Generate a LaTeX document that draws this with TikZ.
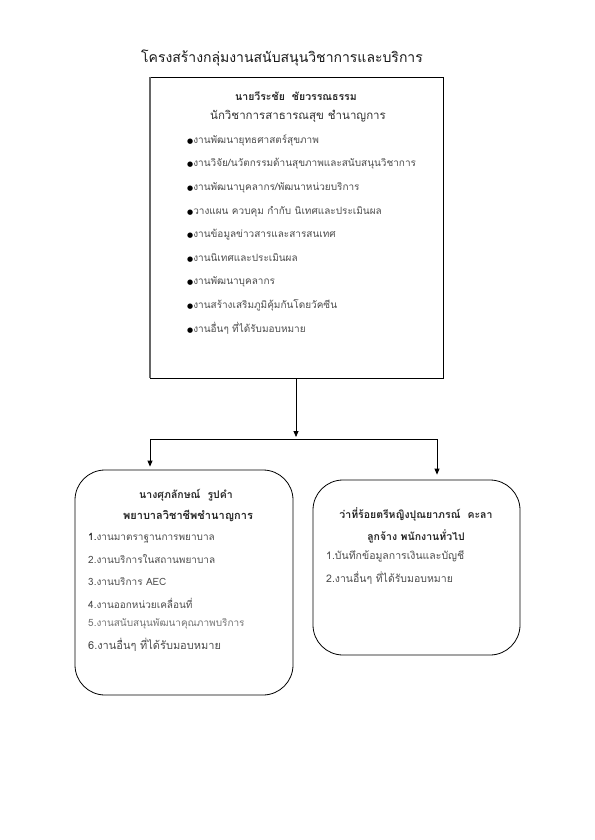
\documentclass[tikz,border=0pt]{standalone}
\usepackage{fontspec}
\setmainfont[Script=Thai]{Loma}
\newfontfamily\symfont{DejaVu Sans}
\usetikzlibrary{arrows.meta,positioning,calc}
\tikzset{
  box/.style   ={draw,line width=0.8pt,inner sep=0pt},
  rbox/.style  ={box,rounded corners=30pt},
  ttl/.style   ={font=\fontsize{14}{16}\selectfont,text=black!90},
  hd/.style    ={font=\fontsize{10.5}{12}\bfseries,text=black!85},
  hdn/.style   ={font=\fontsize{11.5}{13}\selectfont,text=black!80},
  itm/.style   ={anchor=west,font=\fontsize{10}{12}\selectfont,text=black!70,inner sep=0pt},
  flow/.style  ={-{Triangle[length=6pt,width=5pt]},line width=0.8pt},
}
\newcommand{\bul}{{\symfont\fontsize{7}{8}\selectfont\textcolor{black}{●}}}

\begin{document}
\begin{tikzpicture}[x=1pt,y=-1pt]
  \useasboundingbox (0,0) rectangle (594,840);
  \node[ttl] (title) at (282,58) {โครงสร้างกลุ่มงานสนับสนุนวิชาการและบริการ};

  % top box
  \node[box,minimum width=293pt,minimum height=301pt] (head) at (296.5,227.5) {};
  \draw[line width=2pt,black!60] (head.north west) -- (head.south west);
  \node[hd]  (hname) at (296,96)  {นายวีระชัย\ \ ชัยวรรณธรรม};
  \node[hdn] (hpos)  at (298,116) {นักวิชาการสาธารณสุข ชำนาญการ};
  \foreach \y/\t [count=\i] in {
      140/{งานพัฒนายุทธศาสตร์สุขภาพ},
      164/{งานวิจัย/นวัตกรรมด้านสุขภาพและสนับสนุนวิชาการ},
      188/{งานพัฒนาบุคลากร/พัฒนาหน่วยบริการ},
      212/{วางแผน ควบคุม กำกับ นิเทศและประเมินผล},
      235/{งานข้อมูลข่าวสารและสารสนเทศ},
      258/{งานนิเทศและประเมินผล},
      282/{งานพัฒนาบุคลากร},
      305/{งานสร้างเสริมภูมิคุ้มกันโดยวัคซีน},
      328/{งานอื่นๆ ที่ได้รับมอบหมาย}}
    \node[itm] (h\i) at (187,\y) {\bul\t};

  % left box
  \node[rbox,minimum width=218pt,minimum height=225pt] (lbox) at (184,582.5) {};
  \node[hd] (lname) at (186,495) {นางศุภลักษณ์\ \ รูปคำ};
  \node[hd,font=\fontsize{11}{13}\bfseries] (lpos) at (188,516) {พยาบาลวิชาชีพชำนาญการ};
  \node[itm] (l1) at (88,538) {\textcolor{black}{1.}งานมาตราฐานการพยาบาล};
  \node[itm] (l2) at (88,559) {2.งานบริการในสถานพยาบาล};
  \node[itm] (l3) at (88,582) {3.งานบริการ AEC};
  \node[itm] (l4) at (88,603) {4.งานออกหน่วยเคลื่อนที่};
  \node[itm,text=black!55] (l5) at (88,624) {5.งานสนับสนุนพัฒนาคุณภาพบริการ};
  \node[itm,font=\fontsize{11}{13}\selectfont] (l6) at (88,645) {6.งานอื่นๆ ที่ได้รับมอบหมาย};

  % right box
  \node[rbox,minimum width=207pt,minimum height=175pt] (rbox) at (416.5,567.5) {};
  \node[hd] (rname) at (416,514) {ว่าที่ร้อยตรีหญิงปุณยาภรณ์\ \ คะลา};
  \node[hd] (rpos)  at (416,536) {ลูกจ้าง พนักงานทั่วไป};
  \node[itm,font=\fontsize{10.5}{12}\selectfont] (r1) at (326,556) {1.บันทึกข้อมูลการเงินและบัญชี};
  \node[itm,font=\fontsize{10.5}{12}\selectfont] (r2) at (326,578) {2.งานอื่นๆ ที่ได้รับมอบหมาย};

  % connectors
  \coordinate (jn) at (296,439);
  \coordinate (jl) at (150,439);
  \coordinate (jr) at (437,439);
  \draw[flow,shorten >=2pt] (head.south -| jn) -- (jn);
  \draw[line width=0.8pt] (jl) -- (jr);
  \draw[flow,shorten >=3pt] (jl) -- (jl |- lbox.north);
  \draw[flow,shorten >=5pt] (jr) -- (jr |- rbox.north);
\end{tikzpicture}
\end{document}
